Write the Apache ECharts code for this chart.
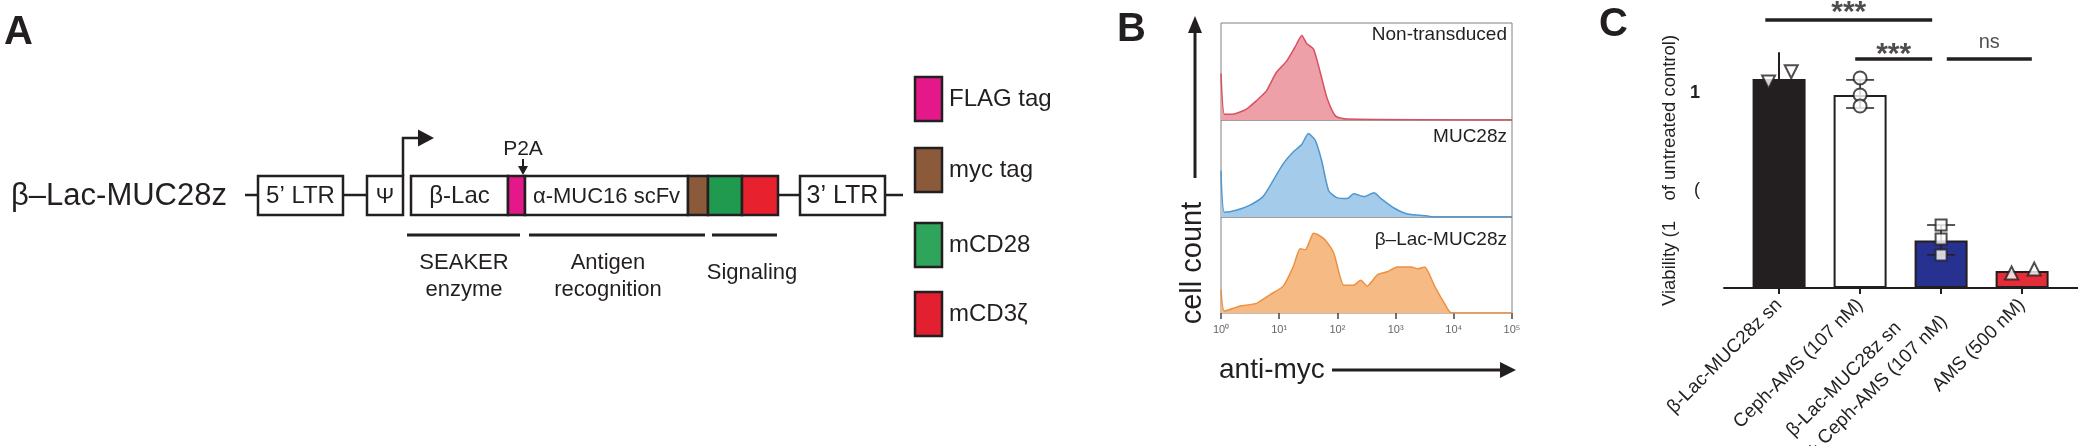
<!DOCTYPE html>
<html>
<head>
<meta charset="utf-8">
<script src="https://cdn.jsdelivr.net/npm/echarts@6/dist/echarts.min.js"></script>
<style>
html, body { margin: 0; padding: 0; background: #fff; }
#chart { width: 2078px; height: 446px; }
</style>
</head>
<body>
<div id="chart"></div>
<script>
// ---- panel B: anti-myc histograms (x = log10 intensity, y = relative count) ----
const histNames = ['Non-transduced', 'MUC28z', 'β–Lac-MUC28z']
const nonTransX = [0, 0.06, 0.2, 0.43, 0.61, 0.78, 0.95, 1.13, 1.27, 1.39, 1.47, 1.59, 1.71, 1.82, 1.97, 2.17, 5]
const nonTransY = [48, 6, 6, 11, 20, 30, 49, 61, 75, 87, 79, 73, 48, 23, 4, 1, 0]
const muc28zX = [0, 0.06, 0.26, 0.49, 0.72, 0.9, 1.07, 1.24, 1.39, 1.5, 1.62, 1.73, 1.85, 1.99, 2.17, 2.28, 2.46, 2.63, 2.75, 2.98, 3.21, 3.55, 3.67, 5]
const muc28zY = [48, 5, 7, 12, 21, 38, 55, 67, 75, 86, 79, 58, 27, 20, 19, 24, 21, 25, 19, 9, 3, 1, 0, 0]
const lacX = [0, 0.06, 0.32, 0.61, 0.84, 1.07, 1.24, 1.36, 1.45, 1.53, 1.59, 1.68, 1.79, 1.94, 2.11, 2.28, 2.4, 2.51, 2.69, 2.86, 3.03, 3.27, 3.38, 3.5, 3.67, 3.84, 3.96, 5]
const lacY = [24, 2, 7, 10, 19, 28, 48, 67, 66, 76, 83, 81, 76, 62, 29, 29, 34, 28, 40, 43, 48, 48, 46, 48, 28, 10, 0, 0]
const decadeLabels = ['10⁰', '10¹', '10²', '10³', '10⁴', '10⁵']

// ---- panel C: viability ----
const viaCats = ['β-Lac-MUC28z sn', 'Ceph-AMS (107 nM)', 'β-Lac-MUC28z sn\n+ Ceph-AMS (107 nM)', 'AMS (500 nM)']
const viaMeans = [1.072, 0.99, 0.243, 0.087]
const viaColors = ['#231f20', '#ffffff', '#27318f', '#e52d38']
const repOffsets = [[-0.13, 0.15], [0, 0, 0], [0, 0, 0], [-0.13, 0.15]]
const repValues = [[1.056, 1.109], [1.077, 0.99, 0.933], [0.323, 0.251, 0.169], [0.077, 0.097]]
const repSymbols = ['triangle', 'circle', 'rect', 'triangle']
const errLow = [null, 0.923, 0.17, null]
const errHigh = [null, 1.067, 0.323, null]
const sigFrom = [-0.17, 0.94, 2.07]
const sigTo = [1.89, 1.89, 3.12]
const sigY = [1.374, 1.174, 1.174]
const sigText = ['***', '***', 'ns']

// ---- panel A: construct diagram pieces ----
const segEdges = [411, 508, 525, 688, 708, 742, 778]
const segColors = ['#ffffff', '#e5188a', '#ffffff', '#8b5a3a', '#1f9a4f', '#e8212f']
const segLabels = ['β-Lac', '', 'α-MUC16 scFv', '', '', '']
const legendNames = ['FLAG tag', 'myc tag', 'mCD28', 'mCD3ζ']
const legendColors = ['#e5188a', '#8b5a3a', '#2ea55a', '#e3202f']
const legendTops = [77, 148, 223, 292]

const FONT = '"Liberation Sans", Arial, Helvetica, sans-serif'
const INK = '#231f20'
const g = []

function txt(x, y, text, size, align, weight, rotation) {
  g.push({
    type: 'text', x: x, y: y, rotation: rotation || 0, z: 10,
    style: { text: text, fontSize: size, fontFamily: FONT, fontWeight: weight || 'normal',
      fill: INK, align: align || 'left', verticalAlign: 'middle' }
  })
}
function box(x1, x2, y1, y2, fill, label, size) {
  g.push({ type: 'rect', shape: { x: x1, y: y1, width: x2 - x1, height: y2 - y1 },
    style: { fill: fill, stroke: INK, lineWidth: 2.5 }, z: 10 })
  if (label) txt((x1 + x2) / 2, (y1 + y2) / 2 + 1, label, size, 'center')
}
function ln(x1, y1, x2, y2, w) {
  g.push({ type: 'line', shape: { x1: x1, y1: y1, x2: x2, y2: y2 }, style: { stroke: INK, lineWidth: w || 2.5 }, z: 10 })
}
function tri(points) {
  g.push({ type: 'polygon', shape: { points: points }, style: { fill: INK }, z: 10 })
}

// panel letters
txt(4, 33, 'A', 40, 'left', 'bold')
txt(1117, 30, 'B', 40, 'left', 'bold')
txt(1599, 25, 'C', 40, 'left', 'bold')

// construct
txt(11, 196, 'β–Lac-MUC28z', 31)
ln(245, 195, 258, 195)
box(258, 343, 176, 215, '#fff', '5’ LTR', 24)
ln(343, 195, 367, 195)
box(367, 403, 176, 215, '#fff', 'Ψ', 22)
g.push({ type: 'polyline', shape: { points: [[403, 176], [403, 138], [420, 138]] },
  style: { stroke: INK, lineWidth: 2.5, fill: null }, z: 10 })
tri([[418, 129.5], [434, 138], [418, 146.5]])
for (let i = 0; i < segColors.length; i++) {
  box(segEdges[i], segEdges[i + 1], 176, 215, segColors[i], segLabels[i], i === 0 ? 24 : 22)
}
ln(778, 195, 800, 195)
box(800, 885, 176, 215, '#fff', '3’ LTR', 25)
ln(885, 195, 903, 195)
txt(523, 149, 'P2A', 21, 'center')
ln(523, 159, 523, 168, 2)
tri([[518, 166], [528, 166], [523, 175]])
ln(407, 235, 520, 235, 3)
ln(529, 235, 705, 235, 3)
ln(712, 235, 777, 235, 3)
txt(464, 263, 'SEAKER', 22, 'center')
txt(464, 290, 'enzyme', 22, 'center')
txt(608, 263, 'Antigen', 22, 'center')
txt(608, 290, 'recognition', 22, 'center')
txt(752, 273, 'Signaling', 22, 'center')
for (let i = 0; i < legendNames.length; i++) {
  g.push({ type: 'rect', shape: { x: 915, y: legendTops[i], width: 27, height: 44 },
    style: { fill: legendColors[i], stroke: INK, lineWidth: 2.5 }, z: 10 })
  txt(949, legendTops[i] + 22, legendNames[i], 24)
}

// panel B decorations
ln(1195, 178, 1195, 30, 3)
tri([[1188, 33], [1202, 33], [1195, 16]])
txt(1193, 263, 'cell count', 29, 'center', 'normal', Math.PI / 2)
txt(1219, 370, 'anti-myc', 28)
ln(1332, 370, 1503, 370, 3)
tri([[1500, 362], [1516, 370], [1500, 378]])
const histLabelY = [35, 137, 240]
histNames.forEach((n, i) => txt(1507, histLabelY[i], n, 19, 'right'))

// ---- options ----
const histX = [nonTransX, muc28zX, lacX]
const histY = [nonTransY, muc28zY, lacY]
const histLine = ['#d9505e', '#4f97d0', '#ef9040']
const histFill = ['#eda0a7', '#a5cbea', '#f6bb85']
const gridTops = [23, 120, 217]
const gridHeights = [97, 97, 96]

const grids = gridTops.map((t, i) => ({
  left: 1221, top: t, width: 291, height: gridHeights[i], show: true,
  borderColor: '#808080', borderWidth: 1, backgroundColor: 'transparent', outerBoundsMode: 'none'
}))
grids.push({ left: 1724, top: 53, width: 354, height: 235, outerBoundsMode: 'none' })

const xAxes = gridTops.map((t, i) => ({
  type: 'value', gridIndex: i, min: 0, max: 5, interval: 1,
  axisLine: { show: false }, splitLine: { show: false },
  axisTick: { show: i === 2, length: 6, lineStyle: { color: '#444', width: 1.5 } },
  axisLabel: { show: i === 2, margin: 11, fontSize: 11, color: '#666', fontFamily: FONT,
    formatter: v => decadeLabels[v] }
}))
xAxes.push({
  type: 'value', gridIndex: 3, min: -0.68, max: 3.69,
  splitLine: { show: false },
  axisLine: { lineStyle: { color: INK, width: 2 } },
  axisTick: { customValues: [0, 1, 2, 3], length: 6, lineStyle: { color: INK, width: 2 } },
  axisLabel: {
    customValues: [0, 1, 2, 3], rotate: 45, margin: 14, fontSize: 19, color: INK, fontFamily: FONT,
    lineHeight: 28,
    formatter: v => {
      const s = viaCats[Math.round(v)]
      return s.indexOf('\n') >= 0 ? s.split('\n').map(t => '{w|' + t + '}').join('\n') : s
    },
    rich: { w: { width: 200, align: 'left', fontSize: 19, lineHeight: 28, fontFamily: FONT, color: INK } }
  }
})

const yAxes = gridTops.map((t, i) => ({ type: 'value', gridIndex: i, min: 0, max: 100, show: false }))
yAxes.push({
  type: 'value', gridIndex: 3, min: 0, max: 1.205,
  splitLine: { show: false },
  axisLine: { show: true, lineStyle: { color: INK, width: 2 } },
  axisTick: { show: true, customValues: [0.5, 1], length: 4, lineStyle: { color: INK, width: 2 } },
  axisLabel: {
    customValues: [0.5, 1], margin: 24, fontFamily: FONT, color: INK,
    formatter: v => v === 1 ? '{b|1}' : '{n|(}',
    rich: { b: { fontSize: 18, fontWeight: 'bold', fontFamily: FONT, color: INK },
            n: { fontSize: 18, fontFamily: FONT, color: INK } }
  },
  name: 'Viability (1    of untreated control)', nameLocation: 'middle', nameGap: 45,
  nameTextStyle: { fontSize: 18.5, fontFamily: FONT, color: INK }
})

const series = []
histX.forEach((xs, i) => {
  series.push({
    type: 'line', xAxisIndex: i, yAxisIndex: i, symbol: 'none', smooth: 0.2,
    data: xs.map((x, j) => [x, histY[i][j]]),
    lineStyle: { color: histLine[i], width: 1.5 },
    areaStyle: { color: histFill[i], opacity: 1 }, z: 3
  })
})

series.push({
  type: 'bar', xAxisIndex: 3, yAxisIndex: 3, barWidth: 53, z: 2,
  data: viaMeans.map((m, i) => ({ value: [i, m], itemStyle: { color: viaColors[i] } })),
  itemStyle: { borderColor: INK, borderWidth: 2 }
})

series.push({
  type: 'custom', xAxisIndex: 3, yAxisIndex: 3, z: 3,
  data: viaMeans.map((m, i) => [i, errLow[i], errHigh[i]]).filter(d => d[1] !== null),
  renderItem: (params, api) => {
    const lo = api.coord([api.value(0), api.value(1)])
    const hi = api.coord([api.value(0), api.value(2)])
    const st = { stroke: INK, lineWidth: 1.5 }
    return { type: 'group', children: [
      { type: 'line', shape: { x1: lo[0], y1: lo[1], x2: hi[0], y2: hi[1] }, style: st },
      { type: 'line', shape: { x1: lo[0] - 14, y1: lo[1], x2: lo[0] + 14, y2: lo[1] }, style: st },
      { type: 'line', shape: { x1: hi[0] - 14, y1: hi[1], x2: hi[0] + 14, y2: hi[1] }, style: st }
    ] }
  }
})

repValues.forEach((vals, i) => {
  series.push({
    type: 'scatter', xAxisIndex: 3, yAxisIndex: 3, z: 4,
    symbol: repSymbols[i], symbolRotate: i === 0 ? 180 : 0,
    symbolSize: repSymbols[i] === 'rect' ? 11 : 13,
    data: vals.map((v, j) => [i + repOffsets[i][j], v]),
    itemStyle: { color: '#fff', borderColor: INK, borderWidth: 2 }
  })
})

sigText.forEach((t, i) => {
  series.push({
    type: 'line', xAxisIndex: 3, yAxisIndex: 3, symbol: 'none', clip: false, z: 5,
    data: [[sigFrom[i], sigY[i]], [sigTo[i], sigY[i]]],
    lineStyle: { color: INK, width: 3.5 }
  })
})
series.push({
  type: 'scatter', xAxisIndex: 3, yAxisIndex: 3, symbolSize: 0, clip: false, z: 6,
  data: sigText.map((t, i) => ({
    value: [(sigFrom[i] + sigTo[i]) / 2, sigY[i]],
    label: {
      show: true, position: 'inside', formatter: t,
      fontSize: t === 'ns' ? 20 : 30, fontWeight: t === 'ns' ? 'normal' : 'bold',
      fontFamily: FONT, color: INK,
      offset: t === 'ns' ? [0, -17] : [0, i === 0 ? -7 : -4]
    }
  }))
})

const chart = echarts.init(document.getElementById('chart'))
chart.setOption({
  animation: false,
  backgroundColor: '#fff',
  grid: grids,
  xAxis: xAxes,
  yAxis: yAxes,
  series: series,
  graphic: g
})
</script>
</body>
</html>
